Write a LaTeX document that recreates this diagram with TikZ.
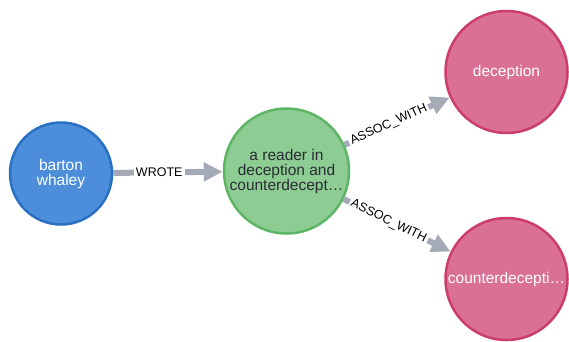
\documentclass[tikz,border=0pt]{standalone}
\usepackage{fontspec}
\setmainfont{Liberation Sans}
\usetikzlibrary{arrows.meta}
\definecolor{bluefill}{HTML}{4C8EDA}
\definecolor{bluedraw}{HTML}{2870C2}
\definecolor{greenfill}{HTML}{8DCC93}
\definecolor{greendraw}{HTML}{5DB665}
\definecolor{pinkfill}{HTML}{DA7194}
\definecolor{pinkdraw}{HTML}{CC3C6C}
\definecolor{edgegray}{HTML}{A5ABB6}
\definecolor{darktext}{HTML}{2A2C34}
\tikzset{
  nodecircle/.style={circle, inner sep=0pt, line width=2.5pt, align=center,
    font=\fontsize{15.5}{15}\selectfont},
  personnode/.style={nodecircle, fill=bluefill, draw=bluedraw, text=white, minimum size=102pt},
  booknode/.style={nodecircle, fill=greenfill, draw=greendraw, text=darktext, minimum size=125pt},
  topicnode/.style={nodecircle, fill=pinkfill, draw=pinkdraw, text=white, minimum size=122pt},
  reledge/.style={draw=edgegray, line width=6pt, -{Triangle[length=19pt,width=18pt]}},
  rellabel/.style={fill=white, inner sep=2pt, text=black, font=\fontsize{12.5}{13}\selectfont, pos=0.42}
}
\begin{document}
\begin{tikzpicture}[x=1pt,y=-1pt]
\useasboundingbox (0,0) rectangle (569,341);
\node[personnode] (A) at (61,173.5) {barton\\whaley};
\node[booknode] (B) at (286.5,171) {a reader in\\deception and\\counterdecept\ldots};
\node[topicnode] (C) at (506.5,72) {deception};
\node[topicnode] (D) at (506.5,279) {counterdecepti\ldots};
\draw[reledge] (A) -- node[rellabel] {WROTE} (B);
\draw[reledge] (B) -- node[rellabel, sloped] {ASSOC\_WITH} (C);
\draw[reledge] (B) -- node[rellabel, sloped] {ASSOC\_WITH} (D);
\end{tikzpicture}
\end{document}
